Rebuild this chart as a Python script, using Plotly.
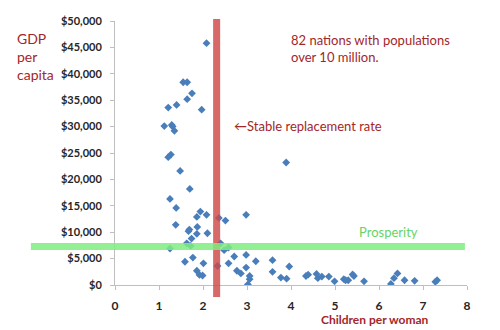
import plotly.graph_objects as go

children = [2.08, 1.55, 1.64, 1.75, 1.64, 1.21, 1.40, 1.97, 1.12, 1.29, 1.31, 1.35,
            1.21, 1.27, 1.48, 1.70, 1.25, 1.39, 1.94, 1.86, 2.08, 2.36, 2.51, 2.98,
            3.89, 1.38, 1.69, 1.67, 1.87, 2.10, 1.86, 1.74, 1.63, 1.72, 1.25, 2.40,
            2.48, 2.58, 1.59, 1.77, 2.01, 2.33, 2.58, 2.71, 2.98, 1.86, 1.92, 1.99,
            2.77, 2.86, 2.98, 3.06, 3.06, 3.02, 3.20, 3.58, 3.58, 3.96, 3.77, 3.90,
            4.34, 4.39, 4.58, 4.61, 4.70, 4.86, 4.99, 5.20, 5.24, 5.30, 5.40, 5.43,
            5.66, 6.27, 6.34, 6.42, 6.58, 6.81, 7.28, 7.32]
gdp_k = [45.8, 38.4, 38.4, 36.3, 35.2, 33.6, 34.1, 33.2, 30.1, 30.3, 30.0, 29.2,
         24.2, 24.7, 21.6, 18.2, 16.3, 14.6, 13.9, 12.9, 13.3, 12.7, 12.2, 13.3,
         23.2, 11.4, 10.5, 10.2, 11.0, 9.8, 9.7, 8.8, 7.9, 7.4, 6.9, 7.9,
         6.6, 7.1, 4.4, 5.2, 4.1, 3.6, 4.1, 5.4, 5.7, 2.7, 1.9, 1.8,
         2.7, 2.2, 3.3, 1.7, 1.1, 0.1, 4.5, 4.7, 2.5, 3.5, 1.4, 1.2,
         1.7, 1.95, 2.1, 1.3, 1.6, 1.6, 0.7, 1.1, 0.9, 0.9, 2.0, 1.7,
         0.7, 0.2, 1.3, 2.2, 0.9, 0.8, 0.6, 0.9]
gdp = [v * 1000 for v in gdp_k]

x_ticks = [0, 1, 2, 3, 4, 5, 6, 7, 8]
y_ticks = [0, 5000, 10000, 15000, 20000, 25000, 30000, 35000, 40000, 45000, 50000]
y_labels = ["$" + format(v, ",") for v in y_ticks]

replacement_rate = 2.31
prosperity_level = 7300

FONT = "Lato"
DARKRED = "#a3262a"

fig = go.Figure()
fig.add_trace(go.Scatter(
    x=children, y=gdp, mode="markers",
    marker=dict(symbol="diamond", size=6, color="#4a7ebb"),
    hoverinfo="x+y", showlegend=False,
))

# Stable replacement rate bar
fig.add_shape(type="rect", xref="x", yref="paper",
              x0=replacement_rate - 0.08, x1=replacement_rate + 0.08,
              y0=-0.045, y1=1.008, line_width=0,
              fillcolor="rgba(206,72,72,0.82)", layer="above")
# Prosperity bar
fig.add_shape(type="rect", xref="paper", yref="y",
              x0=-0.239, x1=0.994,
              y0=prosperity_level - 650, y1=prosperity_level + 650, line_width=0,
              fillcolor="rgba(128,236,128,0.85)", layer="above")

fig.add_annotation(xref="paper", yref="paper", x=-0.284, y=0.975,
                   xanchor="left", yanchor="top", align="left", showarrow=False,
                   text="GDP<br>per<br>capita",
                   font=dict(family=FONT, size=14, color=DARKRED))
fig.add_annotation(xref="paper", yref="paper", x=0.494, y=0.965,
                   xanchor="left", yanchor="top", align="left", showarrow=False,
                   text="82 nations with populations<br>over 10 million.",
                   font=dict(family=FONT, size=13, color=DARKRED))
fig.add_annotation(xref="paper", yref="paper", x=0.332, y=0.602,
                   xanchor="left", yanchor="middle", showarrow=False,
                   text="\u2190Stable replacement rate",
                   font=dict(family=FONT, size=13, color=DARKRED))
fig.add_annotation(xref="paper", yref="paper", x=0.6875, y=0.2,
                   xanchor="left", yanchor="middle", showarrow=False,
                   text="Prosperity",
                   font=dict(family=FONT, size=13, color="#66d466"))
fig.add_annotation(xref="paper", yref="paper", x=0.739, y=-0.129,
                   xanchor="center", yanchor="middle", showarrow=False,
                   text="<b>Children per woman</b>",
                   font=dict(family=FONT, size=12, color=DARKRED))

fig.update_xaxes(range=[0, 8], tickvals=x_ticks, ticktext=[str(v) for v in x_ticks],
                 showgrid=False, zeroline=False, showline=True, linecolor="#bfbfbf",
                 linewidth=1, ticks="outside", ticklen=4, tickcolor="#bfbfbf",
                 ticklabelstandoff=6,
                 tickfont=dict(family=FONT, size=12, color="#262626", weight="bold"))
fig.update_yaxes(range=[0, 50000], tickvals=y_ticks, ticktext=y_labels,
                 showgrid=False, zeroline=False, showline=True, linecolor="#bfbfbf",
                 linewidth=1, ticks="outside", ticklen=4, tickcolor="#bfbfbf",
                 ticklabelstandoff=6,
                 tickfont=dict(family=FONT, size=11, color="#262626", weight="bold"))

fig.update_layout(width=500, height=330, margin=dict(l=115, r=33, t=21, b=45),
                  plot_bgcolor="white", paper_bgcolor="white",
                  font=dict(family=FONT))

fig.write_html("out.html")
